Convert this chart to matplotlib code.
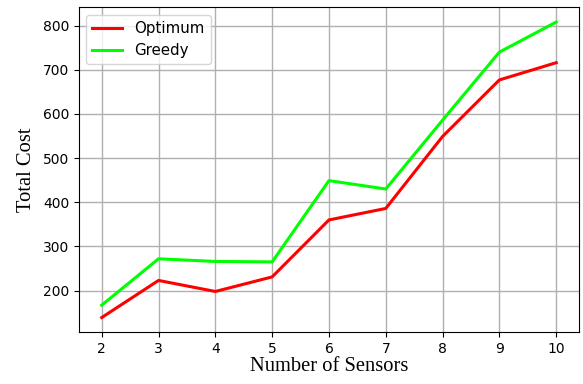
import matplotlib
matplotlib.use("Agg")
import matplotlib.pyplot as plt

sensors = [2, 3, 4, 5, 6, 7, 8, 9, 10]
optimum = [139, 223, 198, 231, 360, 386, 549, 677, 716]
greedy = [167, 272, 266, 265, 449, 430, 586, 740, 808]
y_ticks = [200, 300, 400, 500, 600, 700, 800]

fig = plt.figure(figsize=(5.83, 3.84), dpi=100)
ax = fig.add_axes([0.1355, 0.1346, 0.8575, 0.8464])

ax.plot(sensors, optimum, color="#ff0000", linewidth=2.2, label="Optimum")
ax.plot(sensors, greedy, color="#00ff00", linewidth=2.2, label="Greedy")

ax.set_xticks(sensors)
ax.set_yticks(y_ticks)
ax.tick_params(labelsize=10)
ax.grid(True, color="#b0b0b0", linewidth=1.0)
ax.set_axisbelow(True)

ax.set_xlabel("Number of Sensors", fontfamily="Liberation Serif", fontsize=14.8, labelpad=1)
ax.set_ylabel("Total Cost", fontfamily="Liberation Serif", fontsize=14.8, labelpad=5)

ax.legend(loc="upper left", fontsize=10.8)

fig.savefig("out.png", dpi=100)
